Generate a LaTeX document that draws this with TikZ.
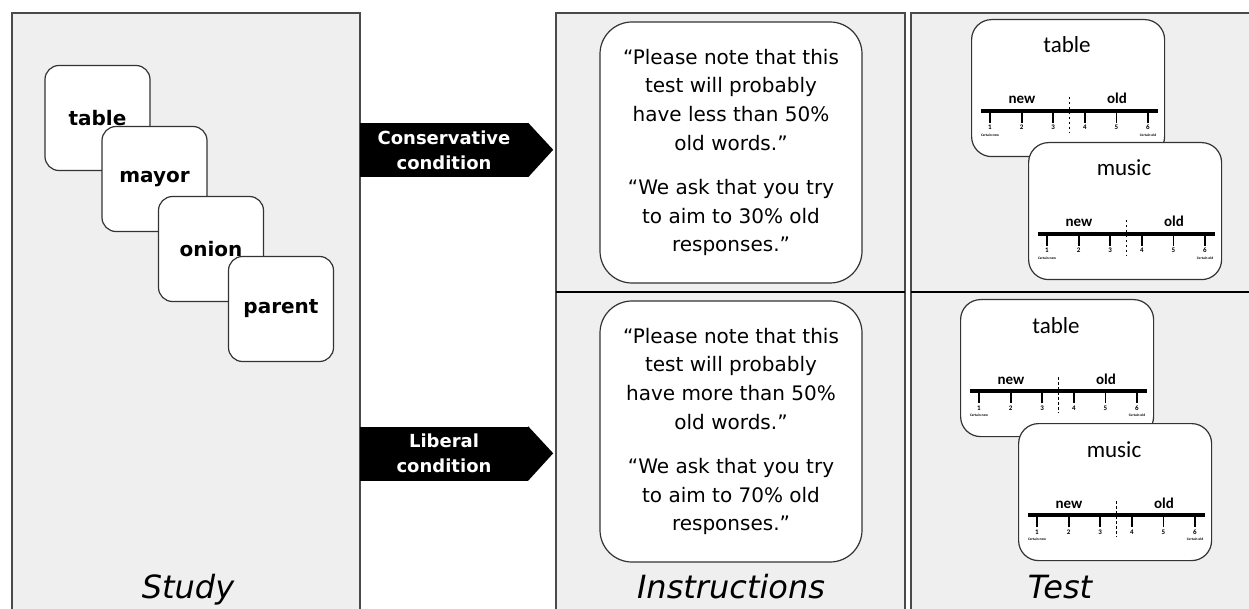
\documentclass[tikz,border=0pt]{standalone}
\usepackage{fontspec}
\setmainfont{DejaVu Sans}
\newfontfamily\cardfont{Carlito}
\usetikzlibrary{positioning}
\definecolor{PanelA}{HTML}{4A4A4A}
\definecolor{PanelB}{HTML}{EFEFEF}
\definecolor{CardA}{HTML}{333333}
\tikzset{
  pnl/.style={fill=PanelB, draw=PanelA, line width=1.5pt},
  sep/.style={draw=black, line width=2pt},
  wc/.style={draw=CardA, fill=white, rounded corners=14pt, line width=1.2pt,
             minimum width=105pt, minimum height=105pt, inner sep=0pt,
             font=\bfseries\fontsize{20}{24}\selectfont},
  ibox/.style={draw=CardA, fill=white, rounded corners=32pt, line width=1.2pt,
               minimum width=262pt, minimum height=261pt, align=center,
               font=\fontsize{20}{28.8}\selectfont},
  cond/.style={fill=black, text=white, minimum width=168pt, minimum height=54pt,
               inner sep=0pt, align=center, font=\bfseries\fontsize{18}{25}\selectfont},
  tc/.style={draw=CardA, fill=white, rounded corners=20pt, line width=1.2pt,
             minimum width=193pt, minimum height=137pt, inner sep=0pt},
  tw/.style={anchor=base, inner sep=0pt, font=\cardfont\fontsize{23}{26}\selectfont},
  tnw/.style={anchor=base, inner sep=0pt, font=\cardfont\bfseries\fontsize{15}{17}\selectfont},
  tnum/.style={anchor=base, inner sep=0pt, font=\cardfont\bfseries\fontsize{7}{8}\selectfont},
  tcert/.style={inner sep=0pt, font=\cardfont\bfseries\fontsize{3.6}{4}\selectfont},
  lbl/.style={anchor=base, font=\itshape\fontsize{32}{36}\selectfont},
}
% one rating card: name, left, top, word
\newcommand{\scalecard}[4]{%
  \node[tc, anchor=north west] (#1) at (#2,#3) {};
  \begin{scope}[shift={(#2,#3)}]
    \node[tw] (#1w) at (96,34) {#4};
    \node[tnw] (#1n) at (51,85) {new};
    \node[tnw] (#1o) at (146,85) {old};
    \draw[line width=4pt] (10,92) -- (187,92);
    \foreach \k in {1,...,6}{
      \draw[line width=1.8pt] ({19+31.6*(\k-1)},92) -- ++(0,12);
      \node[tnum] (#1t\k) at ({19+31.6*(\k-1)},111) {\k};
    }
    \node[tcert] (#1c1) at (19,116) {Certain new};
    \node[tcert] (#1c6) at (177,116) {Certain old};
    \draw[line width=0.9pt, dash pattern=on 2.5pt off 2.5pt] (98,78) -- (98,114);
  \end{scope}
}

\begin{document}
\begin{tikzpicture}[x=1pt, y=-1pt]
  \useasboundingbox (0,0) rectangle (1249,609);
  % panels
  \draw[pnl] (12,13) rectangle (360,616);
  \draw[pnl] (556,13) rectangle (905,616);
  \draw[pnl] (911,13) rectangle (1258,616);
  \draw[sep] (556,292) -- (905,292);
  \draw[sep] (911,292) -- (1249,292);

  % study list
  \node[wc] (w1) at (97.5,118) {table};
  \node[wc] (w2) at (154.5,179) {mayor};
  \node[wc] (w3) at (211,249) {onion};
  \node[wc] (w4) at (281,309) {parent};

  % conditions
  \node[cond] (cons) at (444,150) {Conservative\\condition};
  \fill (cons.north east) -- ++(25,27) -- (cons.south east) -- cycle;
  \node[cond] (lib) at (444,453.5) {Liberal\\condition};
  \fill (lib.north east) -- ++(25,27) -- (lib.south east) -- cycle;

  % instructions
  \node[ibox] (ins1) at (731,152.5)
       {“Please note that this\\test will probably\\have less than 50\%\\old words.”\\[15pt]
        “We ask that you try\\to aim to 30\% old\\responses.”};
  \node[ibox] (ins2) at (731,431.5)
       {“Please note that this\\test will probably\\have more than 50\%\\old words.”\\[15pt]
        “We ask that you try\\to aim to 70\% old\\responses.”};

  % test cards
  \scalecard{t1}{971}{19}{table}
  \scalecard{t2}{1028}{142}{music}
  \scalecard{t3}{960}{299}{table}
  \scalecard{t4}{1018}{423}{music}

  \node[lbl] (study) at (188,598) {Study};
  \node[lbl] (instr) at (731,598) {Instructions};
  \node[lbl] (test) at (1060,598) {Test};
\end{tikzpicture}
\end{document}
